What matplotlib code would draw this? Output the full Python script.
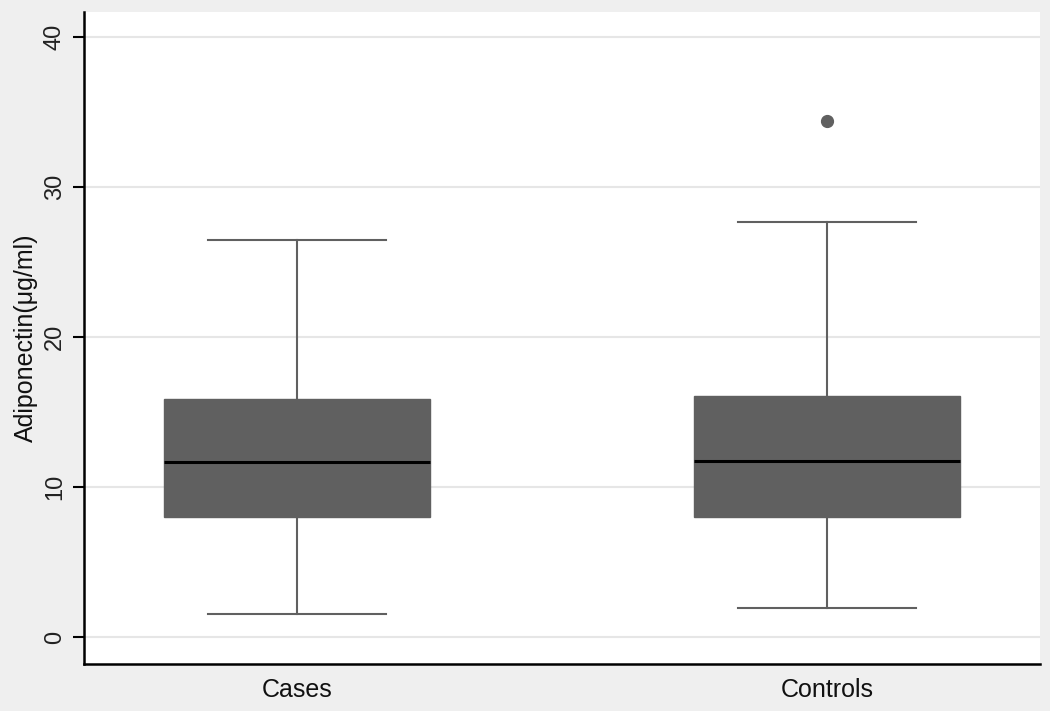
import matplotlib
matplotlib.use("Agg")
import matplotlib.pyplot as plt

categories = ["Cases", "Controls"]
whisker_low = [1.55, 1.95]
q1 = [8.0, 8.0]
median = [11.65, 11.75]
q3 = [15.85, 16.1]
whisker_high = [26.5, 27.7]
outliers = [[], [34.4]]
yticks = [0, 10, 20, 30, 40]

plt.rcParams['font.family'] = ['Liberation Sans', 'DejaVu Sans']

fig = plt.figure(figsize=(10.5, 7.11), dpi=100)
fig.patch.set_facecolor('#efefef')
ax = fig.add_axes([0.08, 0.0661, 0.9105, 0.917])
ax.set_facecolor('white')

stats = []
for i, c in enumerate(categories):
    stats.append(dict(label=c, whislo=whisker_low[i], q1=q1[i], med=median[i],
                      q3=q3[i], whishi=whisker_high[i], fliers=outliers[i]))

gray = '#606060'
ax.bxp(stats, positions=[1, 2], widths=0.502, patch_artist=True,
       showfliers=True, capwidths=0.335,
       boxprops=dict(facecolor=gray, edgecolor=gray, linewidth=1),
       medianprops=dict(color='black', linewidth=2.2, solid_capstyle='butt'),
       whiskerprops=dict(color=gray, linewidth=1.5),
       capprops=dict(color=gray, linewidth=1.5),
       flierprops=dict(marker='o', markerfacecolor=gray, markeredgecolor=gray,
                       markersize=8.5),
       zorder=3)

ax.set_xlim(0.598, 2.402)
ax.set_ylim(-1.8, 41.67)
ax.set_yticks(yticks)
ax.set_yticklabels([str(t) for t in yticks], rotation=90, va='center',
                   fontsize=17, color='#222222')
for lab in ax.get_xticklabels():
    lab.set_fontsize(18)
    lab.set_color('#111111')
ax.tick_params(axis='y', length=8, width=1.5, pad=5)
ax.tick_params(axis='x', length=0, pad=10)
ax.grid(axis='y', color='#e6e6e6', linewidth=1.5, zorder=0)
ax.set_axisbelow(True)
for s in ['top', 'right']:
    ax.spines[s].set_visible(False)
for s in ['left', 'bottom']:
    ax.spines[s].set_linewidth(1.8)
    ax.spines[s].set_color('black')
ax.set_ylabel('Adiponectin(μg/ml)', fontsize=18, labelpad=4, color='#111111')

fig.savefig('out.png', dpi=100, facecolor=fig.get_facecolor())
